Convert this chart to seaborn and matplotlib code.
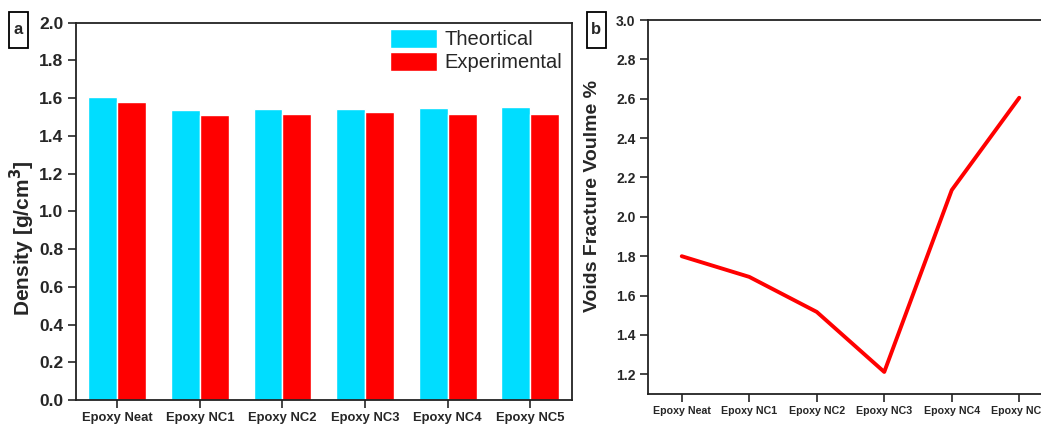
import matplotlib
matplotlib.use("Agg")
import matplotlib.pyplot as plt
import pandas as pd
import seaborn as sns
from matplotlib.patches import Rectangle

# ============================================================
# Data
# ============================================================
samples = ["Epoxy Neat", "Epoxy NC1", "Epoxy NC2", "Epoxy NC3", "Epoxy NC4", "Epoxy NC5"]
theoretical = [1.605, 1.538, 1.541, 1.545, 1.548, 1.553]
experimental = [1.577, 1.512, 1.518, 1.527, 1.518, 1.515]
voids = [1.80, 1.695, 1.517, 1.212, 2.136, 2.605]

density_ticks = [0.0, 0.2, 0.4, 0.6, 0.8, 1.0, 1.2, 1.4, 1.6, 1.8, 2.0]
voids_ticks = [1.2, 1.4, 1.6, 1.8, 2.0, 2.2, 2.4, 2.6, 2.8, 3.0]

sns.set_theme(style="ticks")
plt.rcParams["font.family"] = ["Liberation Sans", "DejaVu Sans"]
plt.rcParams["axes.linewidth"] = 1.3
plt.rcParams["xtick.major.width"] = 1.2
plt.rcParams["ytick.major.width"] = 1.2
plt.rcParams["xtick.direction"] = "out"
plt.rcParams["ytick.direction"] = "out"

df = pd.DataFrame({
    "Sample": samples * 2,
    "Density": theoretical + experimental,
    "Type": ["Theortical"] * len(samples) + ["Experimental"] * len(samples),
})
df_v = pd.DataFrame({"Sample": samples, "Voids": voids})

W, H = 1041, 425
fig = plt.figure(figsize=(W / 100, H / 100), dpi=100)
ax1 = fig.add_axes([76 / W, 25 / H, 495.5 / W, 377.3 / H])
ax2 = fig.add_axes([648 / W, 31 / H, 405 / W, 374 / H])


def panel_label(x0, letter):
    # boxed panel letter, in figure pixels
    fig.patches.append(Rectangle((x0 / W, 1 - 48 / H), 19 / W, 36 / H,
                                 transform=fig.transFigure, facecolor="white",
                                 edgecolor="black", linewidth=1.3))
    fig.text((x0 + 9.5) / W, 1 - 30 / H, letter, fontsize=12, fontweight="bold",
             ha="center", va="center")


# ============================================================
# (a) Density bars
# ============================================================
sns.barplot(
    data=df, x="Sample", y="Density", hue="Type",
    palette={"Theortical": "#00DDFF", "Experimental": "#FF0000"},
    width=0.70, saturation=1, ax=ax1,
)
ax1.set_xlim(-0.5, 5.5)
ax1.set_ylim(0, 2.0)
ax1.set_yticks(density_ticks)
ax1.set_yticklabels([f"{t:.1f}" for t in density_ticks], fontsize=12.5, fontweight="bold")
ax1.set_xticks(range(len(samples)))
ax1.set_xticklabels(samples, fontsize=9.4, fontweight="bold")
ax1.set_xlabel("")
ax1.set_ylabel("Density [g/cm$^\\mathbf{3}$]", fontsize=15, fontweight="bold")
ax1.yaxis.set_label_coords((37 - 76) / 495.5, 0.43)
ax1.tick_params(axis="both", length=6, pad=3)
ax1.legend(loc="upper right", fontsize=14.5, frameon=False, handlelength=2.3,
           handleheight=1.1, handletextpad=0.4, labelspacing=0.12,
           borderpad=0.1, borderaxespad=0.1, bbox_to_anchor=(0.99, 0.995))
for side in ["top", "right", "left", "bottom"]:
    ax1.spines[side].set_visible(True)
    ax1.spines[side].set_color("#222222")

panel_label(9, "a")

# ============================================================
# (b) Voids line
# ============================================================
sns.lineplot(data=df_v, x="Sample", y="Voids", color="#FF0000", linewidth=2.8,
             sort=False, ax=ax2)
ax2.set_xlim(-0.5, 5.5)
ax2.set_ylim(1.1, 3.0)
ax2.set_yticks(voids_ticks)
ax2.set_yticklabels([f"{t:.1f}" for t in voids_ticks], fontsize=10, fontweight="bold")
ax2.set_xticks(range(len(samples)))
ax2.set_xticklabels(samples, fontsize=7.7, fontweight="bold")
ax2.set_xlabel("")
ax2.set_ylabel("Voids Fracture Voulme %", fontsize=14, fontweight="bold")
ax2.yaxis.set_label_coords((601 - 648) / 405, 0.53)
ax2.tick_params(axis="both", length=6, pad=3)
for side in ["top", "right", "left", "bottom"]:
    ax2.spines[side].set_visible(True)
    ax2.spines[side].set_color("#222222")

panel_label(587, "b")

fig.savefig("out.png", dpi=100)
plt.close(fig)
